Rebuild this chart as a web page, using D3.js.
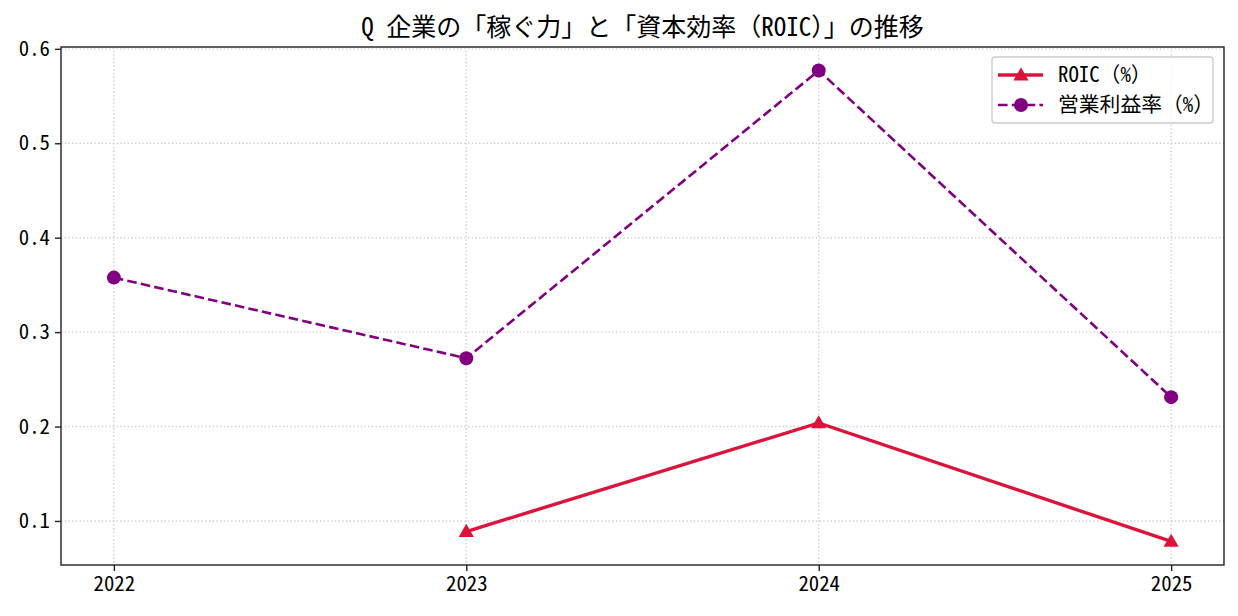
<!DOCTYPE html>
<html>
<head>
<meta charset="utf-8">
<script src="https://cdn.jsdelivr.net/npm/d3@7"></script>
<style>
  body { margin: 0; background: #fff; }
  text { font-family: "Noto Sans Mono CJK JP", "Noto Sans CJK JP", monospace; fill: #000; }
</style>
</head>
<body>
<div id="chart"></div>
<script>
const width = 1238
const height = 616
const margin = {top: 47, right: 14, bottom: 51, left: 61}

// data
const years = [2022, 2023, 2024, 2025]
const roic = [null, 0.0888, 0.2038, 0.0783]          // ROIC (%)
const opMargin = [0.3577, 0.2723, 0.577, 0.2311]     // 営業利益率 (%)
const yTicks = [0.1, 0.2, 0.3, 0.4, 0.5, 0.6]
const titleText = "Q 企業の「稼ぐ力」と「資本効率（ROIC）」の推移"
const legendLabels = ["ROIC（%）", "営業利益率（%）"]

const svg = d3.select("#chart").append("svg")
    .attr("width", width)
    .attr("height", height)

const iw = width - margin.left - margin.right
const ih = height - margin.top - margin.bottom

// matplotlib style 5% padding on both axes
const x = d3.scaleLinear().domain([2022 - 0.15, 2025 + 0.15]).range([0, iw])
const allVals = roic.concat(opMargin).filter(v => v != null)
const lo = d3.min(allVals), hi = d3.max(allVals), pad = (hi - lo) * 0.05
const y = d3.scaleLinear().domain([lo - pad, hi + pad]).range([ih, 0])

const g = svg.append("g").attr("transform", `translate(${margin.left},${margin.top})`)

// grid
const gridStyle = sel => sel.attr("stroke", "#b0b0b0").attr("stroke-opacity", 0.6)
    .attr("stroke-width", 1.4).attr("stroke-dasharray", "1.4,2.3")
g.append("g").selectAll("line").data(yTicks).enter().append("line")
    .attr("x1", 0).attr("x2", iw)
    .attr("y1", d => y(d)).attr("y2", d => y(d))
    .call(gridStyle)
g.append("g").selectAll("line").data(years).enter().append("line")
    .attr("y1", 0).attr("y2", ih)
    .attr("x1", d => x(d)).attr("x2", d => x(d))
    .call(gridStyle)

// axes
const xAxis = g.append("g").attr("transform", `translate(0,${ih})`)
    .call(d3.axisBottom(x).tickValues(years).tickFormat(d3.format("d")).tickSize(6).tickPadding(5))
const yAxis = g.append("g")
    .call(d3.axisLeft(y).tickValues(yTicks).tickFormat(d3.format(".1f")).tickSize(6).tickPadding(5))
;[xAxis, yAxis].forEach(a => {
  a.select(".domain").remove()
  a.selectAll("line").attr("stroke", "#222").attr("stroke-width", 1.4)
  a.selectAll("text").attr("font-size", 20.8).attr("fill", "#000")
    .style("font-family", '"Noto Sans Mono CJK JP", "Noto Sans CJK JP", monospace')
})

g.append("rect").attr("width", iw).attr("height", ih)
    .attr("fill", "none").attr("stroke", "#222").attr("stroke-width", 1.4)

// lines
const opData = years.map((yr, i) => ({x: yr, v: opMargin[i]}))
const roicData = years.map((yr, i) => ({x: yr, v: roic[i]})).filter(d => d.v != null)
const line = d3.line().x(d => x(d.x)).y(d => y(d.v))

g.append("path").datum(opData).attr("d", line)
    .attr("fill", "none").attr("stroke", "purple").attr("stroke-width", 2.6)
    .attr("stroke-dasharray", "9.6,4.2")
g.selectAll(".dot").data(opData).enter().append("circle")
    .attr("cx", d => x(d.x)).attr("cy", d => y(d.v)).attr("r", 7)
    .attr("fill", "purple")

g.append("path").datum(roicData).attr("d", line)
    .attr("fill", "none").attr("stroke", "crimson").attr("stroke-width", 3.4)
const tri = d3.symbol().type(d3.symbolTriangle).size(100)
g.selectAll(".tri").data(roicData).enter().append("path")
    .attr("d", tri)
    .attr("transform", d => `translate(${x(d.x)},${y(d.v) + 1})`)
    .attr("fill", "crimson")

// title
svg.append("text")
    .attr("x", margin.left + iw / 2).attr("y", 36)
    .attr("text-anchor", "middle").attr("font-size", 25)
    .text(titleText)

// legend
const lg = g.append("g").attr("transform", `translate(${iw - 232},10)`)
lg.append("rect").attr("width", 221).attr("height", 66).attr("rx", 3)
    .attr("fill", "#fff").attr("fill-opacity", 0.8)
    .attr("stroke", "#ccc").attr("stroke-width", 1.4)
const items = lg.selectAll(".item").data(legendLabels).enter().append("g")
    .attr("transform", (d, i) => `translate(0,${18 + i * 30})`)
items.append("line").attr("x1", 6).attr("x2", 51)
    .attr("stroke", (d, i) => i === 0 ? "crimson" : "purple")
    .attr("stroke-width", (d, i) => i === 0 ? 3.4 : 2.6)
    .attr("stroke-dasharray", (d, i) => i === 0 ? null : "9.6,4.2")
items.filter((d, i) => i === 0).append("path").attr("d", tri)
    .attr("transform", "translate(29,1)").attr("fill", "crimson")
items.filter((d, i) => i === 1).append("circle").attr("cx", 29).attr("r", 7).attr("fill", "purple")
items.append("text").attr("x", 66).attr("dy", "0.35em").attr("font-size", 20.8).text(d => d)
</script>
</body>
</html>
